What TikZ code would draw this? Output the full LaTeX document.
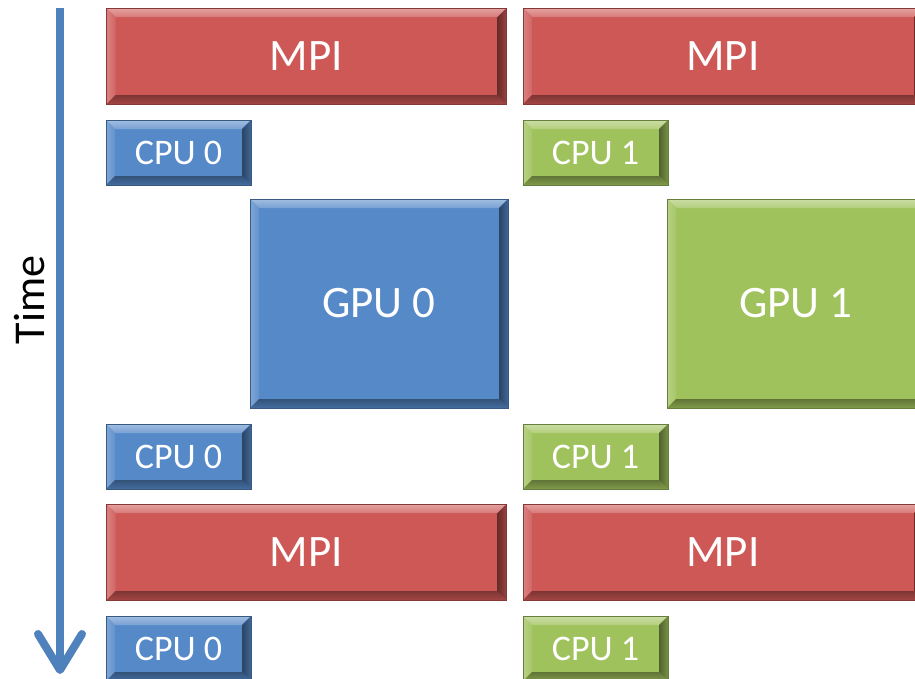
\documentclass[tikz,border=0pt]{standalone}
\usepackage{fontspec}
\setmainfont{Carlito}
\usetikzlibrary{calc}
\definecolor{mpired}{RGB}{205,88,86}
\definecolor{cpublue}{RGB}{85,137,200}
\definecolor{cpugreen}{RGB}{160,194,92}
\definecolor{timeblue}{RGB}{79,129,189}
\tikzset{
  bevelbox/.style={
    rectangle, inner sep=0pt, text=white, fill=#1,
    draw=#1!65!black, line width=0.8pt,
    path picture={
      \path (path picture bounding box.north west) coordinate (bnw)
            (path picture bounding box.north east) coordinate (bne)
            (path picture bounding box.south west) coordinate (bsw)
            (path picture bounding box.south east) coordinate (bse);
      % top facet
      \shade[top color=#1!55!white, bottom color=#1!80!white]
        (bnw) -- (bne) -- ($(bne)+(-9pt,-9pt)$) -- ($(bnw)+(9pt,-9pt)$) -- cycle;
      % left facet
      \shade[left color=#1!75!white, right color=#1!92!white]
        (bnw) -- ($(bnw)+(9pt,-9pt)$) -- ($(bsw)+(9pt,9pt)$) -- (bsw) -- cycle;
      % right facet
      \shade[left color=#1!50!black, right color=#1!75!black]
        (bne) -- (bse) -- ($(bse)+(-9pt,9pt)$) -- ($(bne)+(-9pt,-9pt)$) -- cycle;
      % bottom facet
      \shade[top color=#1!60!black, bottom color=#1!80!black]
        (bsw) -- ($(bsw)+(9pt,9pt)$) -- ($(bse)+(-9pt,9pt)$) -- (bse) -- cycle;
    }},
  mpibox/.style={bevelbox=mpired, minimum width=400pt, minimum height=96pt, font=\fontsize{45}{50}\selectfont},
  cpubox/.style={bevelbox=#1, minimum width=145pt, minimum height=65pt, font=\fontsize{36}{40}\selectfont},
  gpubox/.style={bevelbox=#1, minimum width=258pt, minimum height=209pt, font=\fontsize{45}{50}\selectfont},
}
\begin{document}
\begin{tikzpicture}[x=1pt,y=-1pt]
  \fill[white] (0,0) rectangle (915,678);
  \useasboundingbox (0,0) rectangle (915,678);

  % time axis
  \coordinate (tstart) at (60,8);
  \coordinate (tend) at (60,670);
  \coordinate (tleft) at (38,634);
  \coordinate (tright) at (82,634);
  \draw[timeblue, line width=8pt] (tstart) -- (tend);
  \draw[timeblue, line width=8pt, line cap=round, line join=round] (tleft) -- (tend) -- (tright);
  \node[rotate=90, font=\fontsize{44}{48}\selectfont] (time) at (30,300) {Time};

  % rank 0 column
  \node[mpibox] (mpiA0) at (306.5,56) {MPI};
  \node[cpubox=cpublue] (cpuA0) at (178.5,152.5) {CPU 0};
  \node[gpubox=cpublue] (gpu0) at (379,303.5) {GPU 0};
  \node[cpubox=cpublue] (cpuB0) at (178.5,456.5) {CPU 0};
  \node[mpibox] (mpiB0) at (306.5,552) {MPI};
  \node[cpubox=cpublue] (cpuC0) at (178.5,648.5) {CPU 0};

  % rank 1 column
  \node[mpibox] (mpiA1) at (723,56) {MPI};
  \node[cpubox=cpugreen] (cpuA1) at (595.5,152.5) {CPU 1};
  \node[gpubox=cpugreen] (gpu1) at (796,303.5) {GPU 1};
  \node[cpubox=cpugreen] (cpuB1) at (595.5,456.5) {CPU 1};
  \node[mpibox] (mpiB1) at (723,552) {MPI};
  \node[cpubox=cpugreen] (cpuC1) at (595.5,648.5) {CPU 1};
\end{tikzpicture}
\end{document}
